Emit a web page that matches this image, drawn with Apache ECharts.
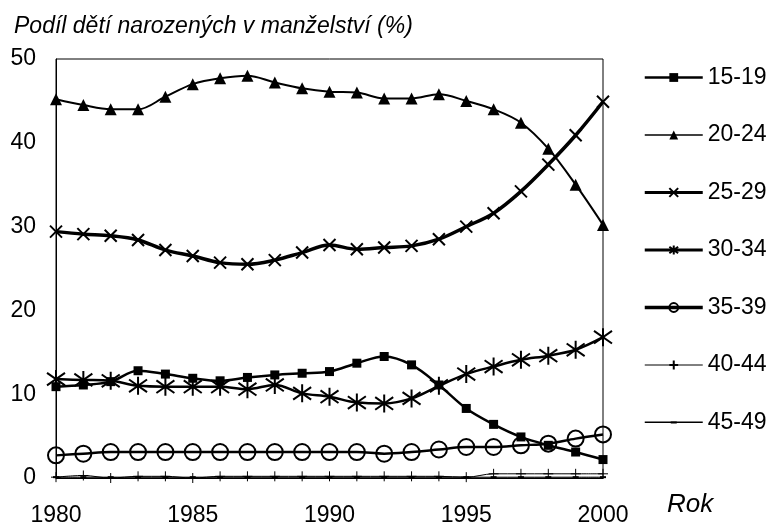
<!DOCTYPE html>
<html><head><meta charset="utf-8">
<script src="https://cdn.jsdelivr.net/npm/echarts@6/dist/echarts.min.js"></script>
<style>html,body{margin:0;padding:0;background:#fff}#c{width:767px;height:529px}</style>
</head><body><div id="c"></div>
<script>
const years = [1980,1981,1982,1983,1984,1985,1986,1987,1988,1989,1990,1991,1992,1993,1994,1995,1996,1997,1998,1999,2000];
const xTicks = [1980,1985,1990,1995,2000];
const yTicks = [0,10,20,30,40,50];
const names = ['15-19','20-24','25-29','30-34','35-39','40-44','45-49'];
const s1519 = [10.9,11.1,11.5,12.8,12.4,11.9,11.6,12.0,12.3,12.5,12.7,13.7,14.5,13.5,11.1,8.3,6.4,4.9,3.9,3.1,2.2];
const s2024 = [45.2,44.5,44.0,44.0,45.5,47.0,47.7,48.0,47.2,46.5,46.1,46.0,45.3,45.3,45.8,45.0,44.0,42.4,39.3,35.0,30.2];
const s2529 = [29.4,29.1,28.9,28.4,27.2,26.5,25.7,25.5,26.0,26.9,27.8,27.3,27.5,27.7,28.5,30.0,31.6,34.2,37.4,40.9,44.9];
const s3034 = [11.8,11.7,11.6,11.0,10.9,10.9,10.9,10.6,11.1,10.1,9.7,9.0,8.9,9.5,11.0,12.4,13.3,14.1,14.6,15.3,16.8];
const s3539 = [2.7,2.9,3.1,3.1,3.1,3.1,3.1,3.1,3.1,3.1,3.1,3.1,2.9,3.1,3.4,3.7,3.7,3.9,4.1,4.7,5.2];
const s4044 = [0.1,0.3,0.0,0.2,0.2,0.0,0.2,0.2,0.2,0.2,0.2,0.2,0.2,0.2,0.2,0.1,0.5,0.5,0.5,0.5,0.5];
const s4549 = [0.1,0.1,0.1,0.1,0.1,0.1,0.1,0.1,0.1,0.1,0.1,0.1,0.1,0.1,0.1,0.1,0.1,0.1,0.1,0.1,0.1];
const allData = [s1519,s2024,s2529,s3034,s3539,s4044,s4549];

const FONT = 'Liberation Sans, Arial, sans-serif';
const styles = [
  {symbol:'rect', size:9, lw:2.5, fill:'#000', bw:0},
  {symbol:'triangle', size:12, lw:2, fill:'#000', bw:0},
  {symbol:'path://M0,0L10,10M10,0L0,10', size:12, lw:3.5, fill:'none', bw:2},
  {symbol:'path://M5,0L5,10M0,1.5L10,8.5M10,1.5L0,8.5', size:18, lw:2.5, fill:'none', bw:2},
  {symbol:'circle', size:16, lw:2.5, fill:'rgba(0,0,0,0)', bw:2},
  {symbol:'path://M5,0L5,10M0,5L10,5', size:10, lw:1, fill:'none', bw:1},
  {symbol:'rect', size:[6,2], lw:1, fill:'#000', bw:0}
];
const legendLineW = [2.5, 1.5, 3, 3, 3.5, 1, 1];

const series = names.map((n,i)=>({
  name:n, type:'line', smooth:0.35,
  data: years.map((y,j)=>[y, allData[i][j]]),
  symbol: styles[i].symbol, symbolSize: styles[i].size,
  lineStyle:{color:'#000', width:styles[i].lw},
  itemStyle:{color: styles[i].fill, borderColor:'#000', borderWidth: styles[i].bw},
  z: 10-i
}));

const legendData = names.map((n,i)=> i===6
  ? {name:n, icon:'path://M0,0h0.05v0.05h-0.05zM0,4.6h58v1.4h-58zM26,4.2h6v2.4h-6zM0,10.95h0.05v0.05h-0.05z',
     itemStyle:{color:'#000', borderWidth:0}}
  : {name:n, lineStyle:{color:'#000', width:legendLineW[i]}});

const chart = echarts.init(document.getElementById('c'), null, {renderer:'canvas'});
chart.setOption({
  animation:false,
  backgroundColor:'#fff',
  title:{text:'Podíl dětí narozených v manželství (%)', left:9, top:10,
    textStyle:{fontFamily:FONT, fontStyle:'italic', fontWeight:'normal', fontSize:23, color:'#000'}},
  grid:{left:56, right:164, top:59, bottom:51, show:true, borderColor:'#000', borderWidth:1, containLabel:false},
  xAxis:{type:'value', min:1980, max:2000, interval:5,
    axisLine:{show:true, lineStyle:{color:'#000'}}, axisTick:{show:false}, splitLine:{show:false},
    axisLabel:{fontFamily:FONT, fontSize:23, color:'#000', margin:26, showMinLabel:true, showMaxLabel:true,
      formatter:v=> xTicks.includes(v) ? String(v) : ''}},
  yAxis:{type:'value', min:0, max:50, interval:10,
    axisLine:{show:true, lineStyle:{color:'#000'}}, axisTick:{show:false}, splitLine:{show:false},
    axisLabel:{fontFamily:FONT, fontSize:23, color:'#000', margin:20,
      formatter:v=> yTicks.includes(v) ? String(v) : ''}},
  legend:{orient:'vertical', left:638, top:61, itemWidth:58, itemHeight:11, itemGap:34.5,
    data:legendData, textStyle:{fontFamily:FONT, fontSize:23, color:'#000'}},
  graphic:[{type:'text', left:667, top:492,
    style:{text:'Rok', font:'italic 26px '+FONT, fill:'#000'}}],
  series: series
});
</script></body></html>
